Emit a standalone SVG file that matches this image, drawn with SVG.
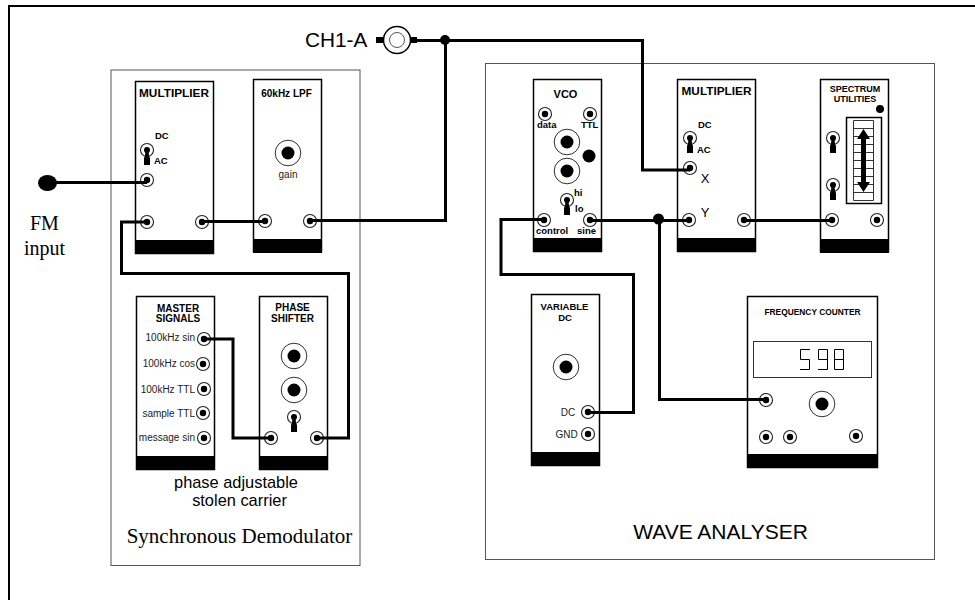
<svg xmlns="http://www.w3.org/2000/svg" width="975" height="600" viewBox="0 0 975 600">
<defs>
<style>
.frame{fill:none;stroke:#000;stroke-width:2}
.box{fill:#fff;stroke:#555;stroke-width:1}
.mod{fill:#fff;stroke:#000;stroke-width:1.5}
.base{fill:#000;stroke:none}
.wire{fill:none;stroke:#000;stroke-width:3;stroke-linejoin:miter}
.t{font-family:"Liberation Sans",Arial,sans-serif;fill:#000}
.s{font-family:"Liberation Serif","Times New Roman",serif;fill:#000}
.h{font-family:"Liberation Sans",Arial,sans-serif;font-weight:bold;font-size:10px;text-anchor:middle;fill:#000}
.l{font-family:"Liberation Sans",Arial,sans-serif;font-size:10px;fill:#222}
.b{font-family:"Liberation Sans",Arial,sans-serif;font-weight:bold;font-size:9.5px;fill:#000}
</style>
<g id="jack"><circle r="6.500" fill="#fff" stroke="#222" stroke-width="1.100"/><circle r="3.200" fill="#000"/></g>
<g id="knob"><circle r="12.800" fill="#fff" stroke="#333" stroke-width="1"/><circle r="6.500" fill="#000"/></g>
<g id="toggle"><circle r="6.500" fill="#fff" stroke="#222" stroke-width="1.100"/><circle r="3" fill="#000"/><path d="M-1.500 0H1.500L2 6L3 8V15H-3V8L-2 6Z" fill="#000"/></g>
</defs>
<path class="frame" d="M9 600V6H975"/>
<rect class="box" x="111" y="70" width="249" height="495.500"/>
<rect class="box" x="485.500" y="63.500" width="449" height="496"/>

<g id="multiplier-1"><rect class="mod" x="135.500" y="81.500" width="78" height="172"/><rect class="base" x="135" y="240" width="79" height="14"/><text class="h" x="174" y="97" style="font-size:11.800px">MULTIPLIER</text><text class="b" x="155" y="139">DC</text><text class="b" x="154" y="164">AC</text><use href="#toggle" x="147" y="150"/><use href="#jack" x="147" y="180"/><use href="#jack" x="147" y="222"/><use href="#jack" x="202" y="222"/></g>
<g id="lpf"><rect class="mod" x="253.500" y="79.500" width="68" height="172"/><rect class="base" x="253" y="239" width="69" height="14"/><text class="h" x="286.500" y="97">60kHz LPF</text><use href="#knob" x="288" y="153"/><text class="l" x="288" y="178" text-anchor="middle">gain</text><use href="#jack" x="265" y="221"/><use href="#jack" x="310" y="221"/></g>
<g id="master-signals"><rect class="mod" x="136.500" y="296.500" width="78" height="173"/><rect class="base" x="136" y="456" width="79" height="14"/><text class="h" x="178" y="312">MASTER</text><text class="h" x="178" y="322">SIGNALS</text><text class="l" x="195" y="341" text-anchor="end">100kHz sin</text><text class="l" x="195" y="367" text-anchor="end">100kHz cos</text><text class="l" x="195" y="393" text-anchor="end">100kHz TTL</text><text class="l" x="195" y="417" text-anchor="end">sample TTL</text><text class="l" x="195" y="441" text-anchor="end">message sin</text><use href="#jack" x="204" y="339"/><use href="#jack" x="203" y="364"/><use href="#jack" x="204" y="389"/><use href="#jack" x="203" y="413"/><use href="#jack" x="204" y="438"/></g>
<g id="phase-shifter"><rect class="mod" x="259.500" y="296.500" width="68" height="173"/><rect class="base" x="259" y="456" width="69" height="14"/><text class="h" x="292.500" y="311">PHASE</text><text class="h" x="292.500" y="322">SHIFTER</text><use href="#knob" x="294" y="356"/><use href="#knob" x="294" y="390"/><use href="#toggle" x="294" y="417"/><use href="#jack" x="271" y="438"/><use href="#jack" x="317" y="438"/></g>
<g id="vco"><rect class="mod" x="533.500" y="79.500" width="68" height="172"/><rect class="base" x="533" y="238" width="69" height="14"/><text class="h" x="565.500" y="98" style="font-size:11px">VCO</text><use href="#jack" x="545" y="114"/><use href="#jack" x="590" y="114"/><text class="b" x="537" y="128">data</text><text class="b" x="581" y="128">TTL</text><use href="#knob" x="567" y="142"/><use href="#knob" x="567" y="171"/><circle cx="589" cy="156" r="6.500" fill="#000"/><use href="#toggle" x="567" y="200"/><text class="b" x="574" y="196">hi</text><text class="b" x="575" y="212">lo</text><use href="#jack" x="544" y="220"/><use href="#jack" x="590" y="220"/><text class="b" x="536" y="234">control</text><text class="b" x="577" y="234">sine</text></g>
<g id="multiplier-2"><rect class="mod" x="677.500" y="79.500" width="78" height="172"/><rect class="base" x="677" y="238" width="79" height="14"/><text class="h" x="716.500" y="95" style="font-size:11.800px">MULTIPLIER</text><text class="b" x="698" y="128">DC</text><text class="b" x="697" y="153">AC</text><use href="#toggle" x="690" y="138"/><use href="#jack" x="690" y="168"/><use href="#jack" x="689" y="220"/><use href="#jack" x="744" y="220"/><text class="t" x="705" y="183" font-size="13" text-anchor="middle">X</text><text class="t" x="705" y="217" font-size="13" text-anchor="middle">Y</text></g>
<g id="spectrum-utilities"><rect class="mod" x="820.500" y="79.500" width="68" height="172"/><rect class="base" x="820" y="239" width="69" height="14"/><text class="h" x="855" y="92" style="font-size:9px">SPECTRUM</text><text class="h" x="855" y="102" style="font-size:9px">UTILITIES</text><circle cx="880" cy="109" r="4" fill="#000"/><rect x="846.500" y="117.500" width="35" height="86" fill="#fff" stroke="#000" stroke-width="1.500"/><path d="M853.500 120.500H873.500V200.500H853.500ZM853.500 128.500H873.500M853.500 136.500H873.500M853.500 144.500H873.500M853.500 152.500H873.500M853.500 160.500H873.500M853.500 168.500H873.500M853.500 176.500H873.500M853.500 184.500H873.500M853.500 192.500H873.500" fill="none" stroke="#333" stroke-width="1"/><path d="M863.500 129L870 139H866V182H870L863.500 192L857 182H861V139H857Z" fill="#000"/><use href="#toggle" x="833" y="138"/><use href="#toggle" x="833" y="185"/><use href="#jack" x="832" y="220"/><use href="#jack" x="877" y="220"/></g>
<g id="variable-dc"><rect class="mod" x="531.500" y="294.500" width="68" height="171"/><rect class="base" x="531" y="452" width="69" height="14"/><text class="h" x="564.500" y="310" style="font-size:9.500px">VARIABLE</text><text class="h" x="565" y="321" style="font-size:9.500px">DC</text><use href="#knob" x="566" y="367"/><text class="l" x="568" y="416" text-anchor="middle">DC</text><text class="l" x="566.500" y="438" text-anchor="middle">GND</text><use href="#jack" x="588" y="412"/><use href="#jack" x="588" y="434"/></g>
<g id="frequency-counter"><rect class="mod" x="747.500" y="296.500" width="130" height="171"/><rect class="base" x="747" y="454" width="131" height="14"/><text class="h" x="812.500" y="315" style="font-size:8.400px">FREQUENCY COUNTER</text><rect x="753.500" y="341.500" width="118" height="36" fill="#fff" stroke="#333" stroke-width="1"/><path d="M810 349.500H800.500V359.500H809.500V369.500H800M828 359.500H818.500V349.500H827.500V369.500H818M834.500 349.500H843.500V369.500H834.500ZM834.500 359.500H843.500" fill="none" stroke="#000" stroke-width="1"/><use href="#jack" x="766" y="400"/><use href="#knob" x="822" y="404"/><use href="#jack" x="766" y="437"/><use href="#jack" x="790" y="437"/><use href="#jack" x="856" y="436"/></g>

<g id="connectors">
<path class="wire" d="M47 182.500H147"/>
<path class="wire" d="M147 222H121.500V273.500H348.500V438H317"/>
<path class="wire" d="M202 221.500H265"/>
<path class="wire" d="M310 220.500H445.500V40.500H642.500V170H690"/>
<path class="wire" d="M204 339H233V438H271"/>
<path class="wire" d="M544 219.500H501V274.500H633.500V412.500H588"/>
<path class="wire" d="M590 220.500H689"/>
<path class="wire" d="M744 220.500H832"/>
<path class="wire" d="M659.500 220V399.500H766"/>
<path class="wire" d="M415 40.500H445"/>
<ellipse cx="47.500" cy="183" rx="9.500" ry="8" fill="#000"/>
<circle cx="445" cy="40" r="5" fill="#000"/>
<circle cx="658.500" cy="219" r="5.500" fill="#000"/>
</g>

<g id="ch1-a"><rect x="376" y="37" width="8" height="6" fill="#000"/><rect x="407" y="37" width="10" height="6" fill="#000"/><circle cx="397" cy="40" r="13.500" fill="#fff" stroke="#000" stroke-width="1.500"/><circle cx="397" cy="40" r="7.500" fill="#fff" stroke="#555" stroke-width="1"/><text class="t" x="305" y="47" font-size="20.800">CH1-A</text></g>
<text class="s" x="30" y="230" font-size="20">FM</text>
<text class="s" x="24" y="255" font-size="20">input</text>
<text class="t" x="236" y="488" font-size="16.400" text-anchor="middle">phase adjustable</text>
<text class="t" x="239.500" y="506" font-size="16.400" text-anchor="middle">stolen carrier</text>
<text class="s" x="239.500" y="542.500" font-size="21" text-anchor="middle">Synchronous Demodulator</text>
<text class="t" x="720.500" y="539" font-size="21" text-anchor="middle">WAVE ANALYSER</text>
</svg>
